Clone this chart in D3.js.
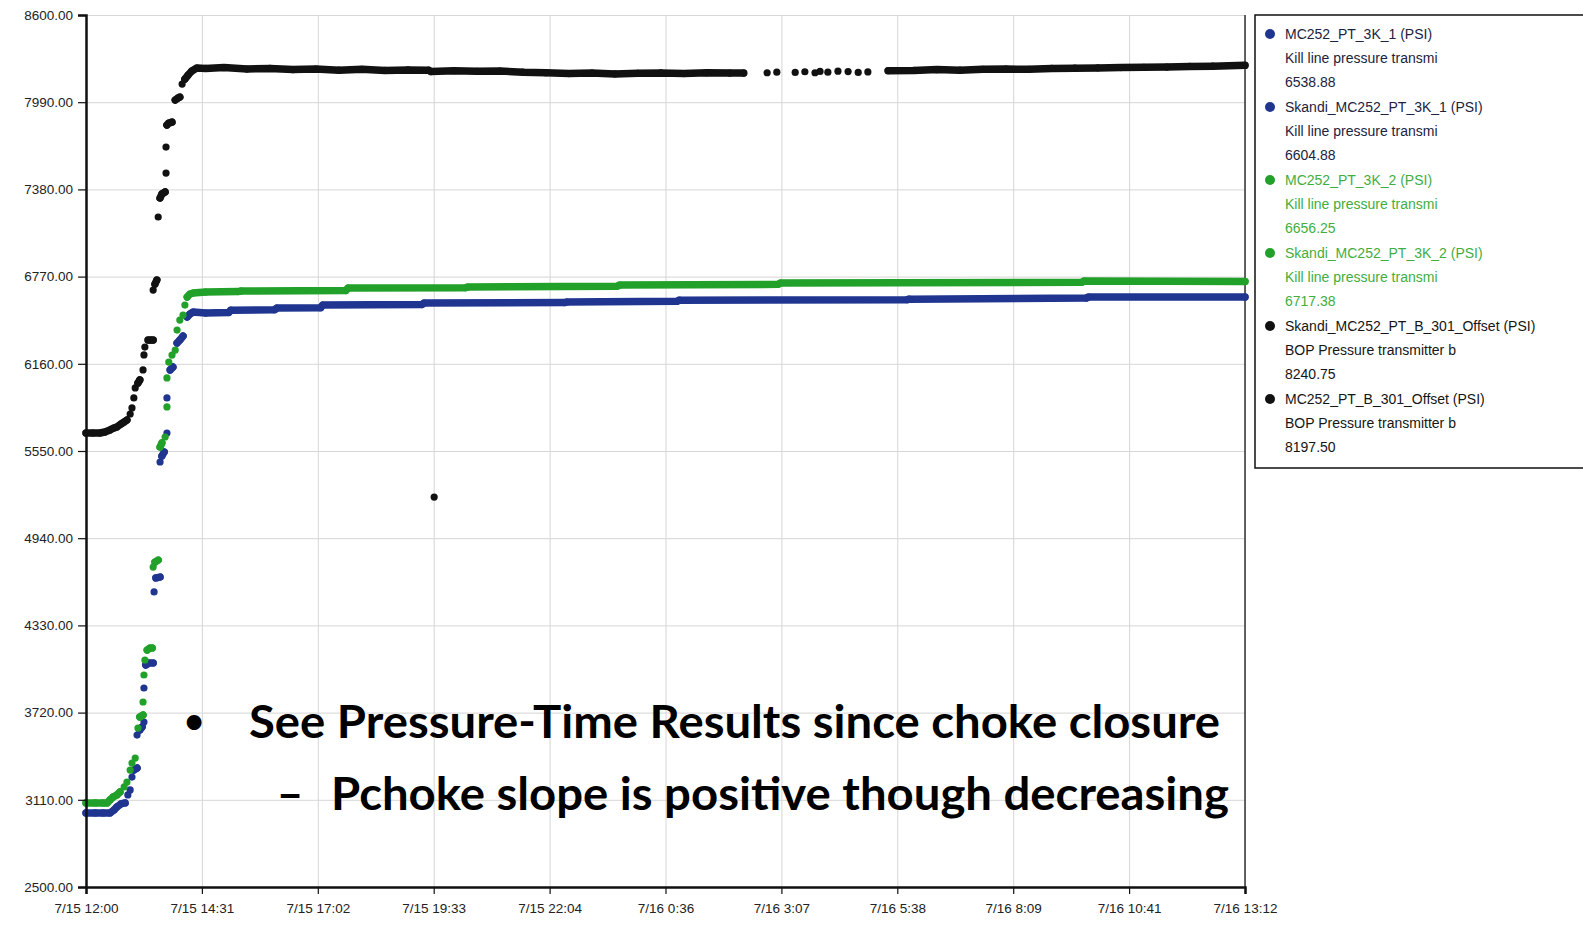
<!DOCTYPE html>
<html>
	<head>
		<meta charset="utf-8">
		<title>Kill line / BOP pressure</title>
		<style>
			body { margin: 0; background: #fff; }
			svg { display: block; }
			.tick text { font-family: "Liberation Sans", Arial, sans-serif; font-size: 13.5px; fill: #222; }
		</style>
	</head>
	<body>
		<svg></svg>

		<script src="https://d3js.org/d3.v7.min.js"></script>
		<script>
			// ---- data (hours since 7/15 12:00, psi) ----
			var yTicks = [2500, 3110, 3720, 4330, 4940, 5550, 6160, 6770, 7380, 7990, 8600]
			var xTickHours = [0, 2.52, 5.04, 7.56, 10.08, 12.6, 15.12, 17.64, 20.16, 22.68, 25.2]
			var xTickLabels = ["7/15 12:00", "7/15 14:31", "7/15 17:02", "7/15 19:33", "7/15 22:04",
				"7/16 0:36", "7/16 3:07", "7/16 5:38", "7/16 8:09", "7/16 10:41", "7/16 13:12"]

			// kill line 1 (blue)
			var kill1Hours = [0, 0.2, 0.37, 0.52, 0.61, 0.67, 0.76, 0.85, 0.91, 0.96, 1.0, 1.04, 1.11, 1.11, 1.17, 1.22,
				1.26, 1.26, 1.3, 1.37, 1.46, 1.48, 1.52, 1.61, 1.61, 1.65, 1.7, 1.76, 1.76, 1.83, 1.89, 1.98, 2.04,
				2.11, 2.2, 2.26, 2.33, 2.6, 3.1, 3.15, 4.1, 4.15, 5.1, 5.15, 7.3, 7.35, 10.4, 10.45, 12.85, 12.9,
				17.85, 17.9, 21.75, 21.8, 25.2]
			var kill1Values = [3018, 3018, 3018, 3018, 3039, 3060, 3081, 3088, 3144, 3179, 3269, 3318, 3332, 3563, 3598, 3619,
				3654, 3892, 4053, 4067, 4067, 4564, 4662, 4668, 5473, 5515, 5543, 5676, 5921, 6117, 6137, 6305, 6326,
				6354, 6487, 6508, 6522, 6515, 6518, 6535, 6538, 6550, 6552, 6571, 6574, 6585, 6588, 6592, 6597, 6605,
				6608, 6612, 6620, 6627, 6627]

			// kill line 2 (green)
			var kill2Hours = [0, 0.2, 0.37, 0.46, 0.52, 0.59, 0.67, 0.74, 0.83, 0.89, 0.96, 1.0, 1.07, 1.13, 1.17, 1.24,
				1.24, 1.26, 1.28, 1.33, 1.39, 1.44, 1.46, 1.5, 1.57, 1.61, 1.65, 1.72, 1.76, 1.76, 1.8, 1.87, 1.94,
				1.98, 2.04, 2.11, 2.15, 2.2, 2.26, 2.33, 2.6, 3.3, 3.37, 5.65, 5.7, 8.25, 8.3, 11.55, 11.6, 15.05,
				15.1, 21.65, 21.7, 25.2]
			var kill2Values = [3088, 3088, 3088, 3088, 3109, 3130, 3144, 3165, 3200, 3234, 3318, 3367, 3402, 3612, 3689, 3703,
				3794, 3983, 4088, 4158, 4172, 4172, 4738, 4773, 4787, 5578, 5606, 5648, 5858, 6061, 6172, 6221, 6256,
				6396, 6466, 6501, 6571, 6627, 6648, 6655, 6662, 6665, 6669, 6672, 6690, 6692, 6697, 6702, 6711, 6716,
				6725, 6730, 6739, 6736]

			// BOP pressure (black); null = no reading
			var bopHours = [0, 0.15, 0.3, 0.41, 0.52, 0.61, 0.67, 0.76, 0.83, 0.89, 0.96, 1.0, 1.04, 1.07, 1.13, 1.17,
				1.24, 1.26, 1.28, 1.35, 1.41, 1.46, 1.46, 1.5, 1.54, 1.57, 1.61, 1.65, 1.72, 1.74, 1.74, 1.76, 1.8,
				1.87, 1.94, 2.0, 2.04, 2.09, 2.15, 2.22, 2.3, 2.41,
				2.6, 3.0, 3.5, 4.0, 4.5, 5.0, 5.5, 6.0, 6.5, 7.0, 7.45, 7.5, 8.0, 8.5, 9.0, 9.5, 10.0, 10.5, 11.0,
				11.5, 12.0, 12.5, 13.0, 13.5, 14.0, 14.3,
				14.45, 14.81, 14.9, 15.02, 15.2, 15.42, 15.5, 15.63, 15.75, 15.85, 15.9, 15.96, 16.05, 16.13, 16.25,
				16.35, 16.45, 16.57, 16.7, 16.79, 16.9, 17.0, 17.2,
				17.44, 18.0, 18.5, 19.0, 19.5, 20.0, 20.5, 21.0, 21.5, 22.0, 22.5, 23.0, 23.5, 24.0, 24.5, 25.2]
			var bopValues = [5676, 5676, 5676, 5683, 5697, 5711, 5718, 5739, 5753, 5767, 5809, 5851, 5921, 5991, 6026, 6047,
				6117, 6222, 6277, 6326, 6326, 6326, 6676, 6718, 6746, 7187, 7320, 7348, 7362, 7494, 7676, 7830, 7844,
				7851, 8005, 8019, 8026, 8117, 8152, 8180, 8208, 8229,
				8226, 8232, 8222, 8226, 8218, 8222, 8214, 8220, 8212, 8216, 8214, 8204, 8210, 8206, 8208, 8200, 8196,
				8190, 8194, 8188, 8192, 8195, 8190, 8196, 8194, 8194,
				null, 8196, null, 8200, null, 8198, null, 8203, null, 8196, null, 8205, null, 8200, null,
				8207, null, 8204, null, 8198, null, 8202, null,
				8210, 8212, 8218, 8214, 8220, 8222, 8220, 8226, 8228, 8230, 8232, 8234, 8236, 8240, 8242, 8248]

			// single stray BOP reading
			var bopStrayHours = [7.57]
			var bopStrayValues = [5228]

			var legendNames = ["MC252_PT_3K_1 (PSI)", "Skandi_MC252_PT_3K_1 (PSI)", "MC252_PT_3K_2 (PSI)",
				"Skandi_MC252_PT_3K_2 (PSI)", "Skandi_MC252_PT_B_301_Offset (PSI)", "MC252_PT_B_301_Offset (PSI)"]
			var legendDescs = ["Kill line pressure transmi", "Kill line pressure transmi", "Kill line pressure transmi",
				"Kill line pressure transmi", "BOP Pressure transmitter b", "BOP Pressure transmitter b"]
			var legendValues = ["6538.88", "6604.88", "6656.25", "6717.38", "8240.75", "8197.50"]

			// ---- setup ----
			var _width = 1583
			var _height = 941
			var _svg = d3.select("svg").attr("width", _width).attr("height", _height)

			var blue = "#1f3590"
			var green = "#22a12a"
			var black = "#111111"
			var legendDot = [blue, blue, green, green, black, black]
			var legendText = ["#1c2340", "#1c2340", "#3fae3f", "#3fae3f", "#151515", "#151515"]

			// plot box
			var plotL = 86, plotR = 1245, plotT = 15, plotB = 887
			var start = new Date(2010, 6, 15, 12, 0)
			function toDate(h) { return new Date(start.getTime() + h * 3600000) }

			var x = d3.scaleTime().domain([toDate(0), toDate(25.2)]).range([plotL, plotR])
			var y = d3.scaleLinear().domain([2500, 8600]).range([plotB, plotT])

			// gridlines
			_svg.append("g")
				.attr("transform", "translate(0," + plotB + ")")
				.call(d3.axisBottom(x).tickValues(xTickHours.map(toDate)).tickSize(-(plotB - plotT)).tickFormat(""))
				.call(g => g.select(".domain").remove())
				.selectAll("line").attr("stroke", "#d6d6d6")
			_svg.append("g")
				.attr("transform", "translate(" + plotL + ",0)")
				.call(d3.axisLeft(y).tickValues(yTicks).tickSize(-(plotR - plotL)).tickFormat(""))
				.call(g => g.select(".domain").remove())
				.selectAll("line").attr("stroke", "#d6d6d6")

			// right border
			_svg.append("line")
				.attr("x1", plotR).attr("x2", plotR).attr("y1", plotT).attr("y2", plotB)
				.attr("stroke", "#333").attr("stroke-width", 1.5)

			// series drawing: thick line through near-flat neighbours, dot at every reading
			function drawSeries(hours, values, color) {
				var pts = hours.map((h, i) => ({ t: toDate(h), v: values[i] }))
				var segs = [], cur = []
				pts.forEach(p => {
					if (p.v === null) { if (cur.length) segs.push(cur); cur = []; return }
					if (cur.length) {
						var q = cur[cur.length - 1]
						if (Math.abs(y(p.v) - y(q.v)) > 4.5) { segs.push(cur); cur = [] }
					}
					cur.push(p)
				})
				if (cur.length) segs.push(cur)

				var line = d3.line().x(d => x(d.t)).y(d => y(d.v))
				var g = _svg.append("g")
				g.selectAll("path").data(segs.filter(s => s.length > 1)).join("path")
					.attr("d", line)
					.attr("fill", "none")
					.attr("stroke", color)
					.attr("stroke-width", 7.5)
					.attr("stroke-linejoin", "round")
					.attr("stroke-linecap", "round")
				g.selectAll("circle").data(pts.filter(p => p.v !== null)).join("circle")
					.attr("cx", d => x(d.t))
					.attr("cy", d => y(d.v))
					.attr("r", 3.6)
					.attr("fill", color)
			}

			drawSeries(bopHours, bopValues, black)
			drawSeries(bopStrayHours, bopStrayValues, black)
			drawSeries(kill1Hours, kill1Values, blue)
			drawSeries(kill2Hours, kill2Values, green)

			// axes
			var yAxis = _svg.append("g")
				.attr("transform", "translate(" + plotL + ",0)")
				.call(d3.axisLeft(y).tickValues(yTicks).tickFormat(d3.format(".2f")).tickSize(8).tickPadding(5))
			var xAxis = _svg.append("g")
				.attr("transform", "translate(0," + plotB + ")")
				.call(d3.axisBottom(x).tickValues(xTickHours.map(toDate)).tickFormat((d, i) => xTickLabels[i]).tickSize(7).tickPadding(9))
			;[yAxis, xAxis].forEach(a => {
				a.select(".domain").attr("stroke", "#111").attr("stroke-width", 2.5)
				a.selectAll(".tick line").attr("stroke", "#111").attr("stroke-width", 1.2)
			})

			// legend
			var legend = _svg.append("g")
			legend.append("rect")
				.attr("x", 1255).attr("y", 15).attr("width", 340).attr("height", 453)
				.attr("fill", "#fff").attr("stroke", "#111").attr("stroke-width", 1.5)
			legendNames.forEach((name, i) => {
				var y0 = 34 + i * 73
				legend.append("circle").attr("cx", 1270).attr("cy", y0).attr("r", 5).attr("fill", legendDot[i])
				;[name, legendDescs[i], legendValues[i]].forEach((txt, j) => {
					legend.append("text")
						.attr("x", 1285).attr("y", y0 + j * 24 + 5)
						.attr("font-family", "Liberation Sans, Arial, sans-serif")
						.attr("font-size", 14)
						.attr("fill", legendText[i])
						.text(txt)
				})
			})

			// slide text over the chart
			var note = _svg.append("g")
				.attr("font-family", "Lato, 'Open Sans', sans-serif")
				.attr("font-weight", "bold")
				.attr("font-size", 46)
				.attr("fill", "#000")
			note.append("text").attr("x", 194).attr("y", 733).attr("text-anchor", "middle")
				.attr("font-size", 34).text("•")
			note.append("text").attr("x", 249).attr("y", 738)
				.attr("textLength", 971).attr("lengthAdjust", "spacingAndGlyphs")
				.text("See Pressure-Time Results since choke closure")
			note.append("text").attr("x", 290).attr("y", 810).attr("text-anchor", "middle").text("–")
			note.append("text").attr("x", 331).attr("y", 810)
				.attr("textLength", 898).attr("lengthAdjust", "spacingAndGlyphs")
				.text("Pchoke slope is positive though decreasing")
		</script>
	</body>
</html>
